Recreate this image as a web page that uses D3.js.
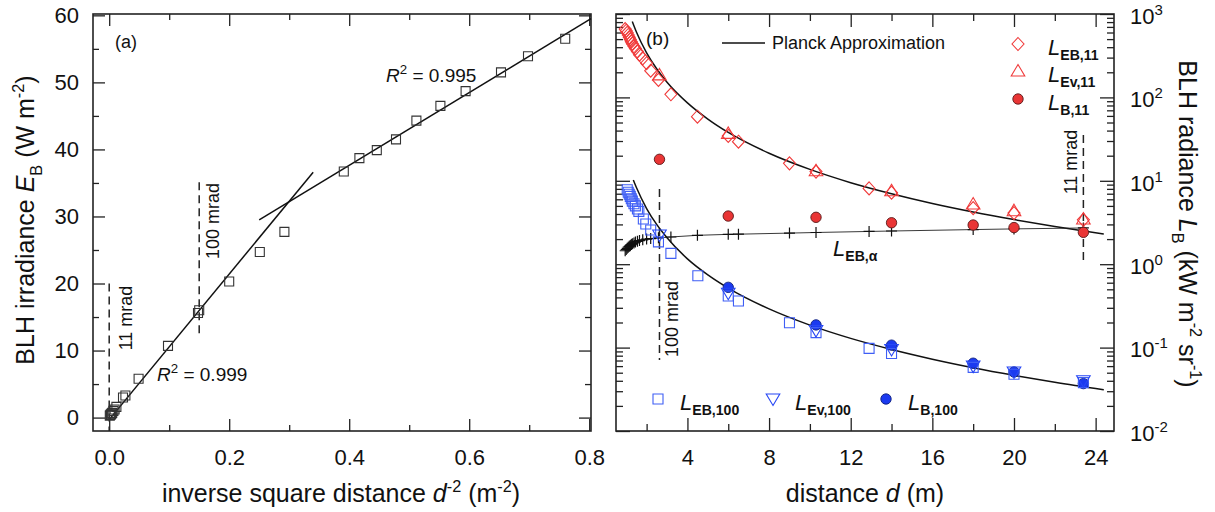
<!DOCTYPE html>
<meta charset="utf-8">
<script src="https://d3js.org/d3.v7.min.js"></script>
<style>
  body { margin: 0; background: #fff; }
  .tick line { stroke: #222; stroke-width: 1.3; }
  .tick text { fill: #111; }
</style>
<body>
<svg id="chart" width="1215" height="512"></svg>
</body>
<script>
// ---- panel (a): irradiance vs inverse square distance ----
var invSqDist = [0.001, 0.002, 0.003, 0.004, 0.005, 0.007, 0.009, 0.012, 0.023, 0.027, 0.049, 0.098,
                 0.148, 0.150, 0.200, 0.251, 0.292, 0.391, 0.417, 0.446, 0.478, 0.512, 0.552, 0.594,
                 0.653, 0.698, 0.760];
var irradiance = [0.3, 0.4, 0.5, 0.6, 0.7, 1.0, 1.2, 1.6, 3.0, 3.3, 5.8, 10.7,
                  15.6, 16.0, 20.3, 24.7, 27.7, 36.7, 38.7, 39.9, 41.5, 44.3, 46.5, 48.7,
                  51.5, 53.9, 56.5];
var fitLowX = [0.0, 0.34], fitLowY = [-0.3, 36.6];
var fitHighX = [0.25, 0.803], fitHighY = [29.5, 59.5];
var xTicksA = [0, 0.2, 0.4, 0.6, 0.8], xMinorA = [0.1, 0.3, 0.5, 0.7];
var yTicksA = [0, 10, 20, 30, 40, 50, 60], yMinorA = [5, 15, 25, 35, 45, 55];

// ---- panel (b): radiance vs distance ----
var dEB11 = [0.95, 1.0, 1.05, 1.1, 1.15, 1.2, 1.25, 1.3, 1.38, 1.45, 1.55, 1.65, 1.81, 2.0, 2.2, 2.58,
             3.19, 4.49, 6.0, 6.5, 9.0, 10.3, 12.9, 14.0, 18.0, 20.0, 23.4];
var LEB11 = [660, 630, 595, 560, 525, 495, 465, 440, 410, 385, 355, 325, 294, 257, 209, 162,
             109, 58.7, 34.5, 29.4, 16.2, 12.9, 8.1, 7.2, 4.7, 4.1, 3.4];
var dEv11 = [2.63, 6.0, 10.3, 14.0, 18.0, 20.0, 23.4];
var LEv11 = [186, 37, 13.2, 7.6, 5.27, 4.38, 3.48];
var dB11 = [2.63, 6.0, 10.3, 14.0, 18.0, 20.0, 23.4];
var LB11 = [18.1, 3.78, 3.65, 3.14, 2.95, 2.75, 2.41];

var dEB100 = [1.05, 1.1, 1.15, 1.2, 1.25, 1.3, 1.38, 1.45, 1.55, 1.62, 1.84, 1.96, 2.2, 2.58, 3.19,
              4.51, 6.0, 6.5, 9.0, 10.3, 12.9, 14.0, 18.0, 20.0, 23.4];
var LEB100 = [7.8, 7.3, 6.9, 6.5, 6.1, 5.7, 5.3, 5.0, 4.6, 4.3, 3.48, 3.03, 2.57, 1.85, 1.35,
              0.728, 0.416, 0.362, 0.199, 0.151, 0.098, 0.085, 0.058, 0.048, 0.038];
var dEv100 = [2.63, 6.0, 10.3, 14.0, 18.0, 20.0, 23.4];
var LEv100 = [2.24, 0.448, 0.16, 0.095, 0.06, 0.051, 0.04];
var dB100 = [6.0, 10.3, 14.0, 18.0, 20.0, 23.4];
var LB100 = [0.528, 0.187, 0.107, 0.065, 0.051, 0.037];

var dAlpha = [0.95, 1.0, 1.05, 1.1, 1.15, 1.2, 1.25, 1.3, 1.38, 1.45, 1.55, 1.65, 1.81, 2.0, 2.2, 2.58,
              3.19, 4.49, 6.0, 6.5, 9.0, 10.3, 12.9, 14.0, 18.0, 20.0, 23.4];
var LAlpha = [1.45, 1.5, 1.55, 1.6, 1.64, 1.68, 1.72, 1.76, 1.8, 1.84, 1.88, 1.92, 1.96, 2.0, 2.03, 2.07,
              2.12, 2.22, 2.28, 2.29, 2.36, 2.4, 2.47, 2.5, 2.6, 2.65, 2.72];

// Planck approximation curves
var dPl11 = [1.3, 1.5, 2, 2.5, 3, 4, 5, 6, 8, 10, 12, 14, 16, 18, 20, 22, 24.4];
var LPl11 = [811, 609, 342, 219, 152, 86, 55, 38, 21.4, 13.7, 9.5, 7.0, 5.35, 4.23, 3.43, 2.83, 2.3];
var dPl100 = [1.35, 1.5, 2, 2.5, 3, 4, 5, 6, 8, 10, 12, 14, 16, 18, 20, 22, 24.4];
var LPl100 = [10.2, 8.3, 4.65, 2.98, 2.07, 1.16, 0.745, 0.517, 0.291, 0.186, 0.129, 0.095, 0.0727,
              0.0574, 0.0465, 0.0384, 0.0313];

var xTicksB = [4, 8, 12, 16, 20, 24], xMinorB = [2, 6, 10, 14, 18, 22];
var yTicksB = [0.01, 0.1, 1, 10, 100, 1000];

var FONT = "Arial, 'Liberation Sans', Helvetica, sans-serif";
var RED = "#f03a3a", BLUE = "#3f5ef5";

var svg = d3.select("#chart").attr("font-family", FONT);

var xA = d3.scaleLinear().domain([-0.027, 0.803]).range([93, 591]);
var yA = d3.scaleLinear().domain([-2, 60.2]).range([431, 14]);
var xB = d3.scaleLinear().domain([0.5, 24.9]).range([616, 1114]);
var yB = d3.scaleLog().domain([0.01, 1000]).range([431, 14]);

// draws one row of inward ticks, optionally labelled
function ticks(maker, scale, vals, len, tr, pad, fmt) {
  var ax = maker(scale).tickValues(vals).tickSizeInner(-len).tickSizeOuter(0);
  if (fmt) ax.tickFormat(fmt).tickPadding(pad); else ax.tickFormat("");
  var g = svg.append("g").attr("transform", tr).call(ax);
  g.select(".domain").remove();
  g.attr("font-family", FONT).attr("font-size", 22);
  return g;
}

// text with italic / sub / sup pieces
function rich(x, y, parts, size, opts) {
  opts = opts || {};
  var t = svg.append("text").attr("x", x).attr("y", y).attr("font-size", size)
    .attr("text-anchor", opts.anchor || "start").attr("fill", "#111");
  if (opts.rotate) t.attr("transform", "rotate(" + opts.rotate + "," + x + "," + y + ")");
  var cur = 0;
  parts.forEach(function(p) {
    var s = t.append("tspan").text(p.t);
    var target = p.sub ? size * (opts.subShift || 0.3) : p.sup ? -size * 0.42 : 0;
    if (target !== cur) s.attr("dy", target - cur);
    cur = target;
    if (p.sub || p.sup) s.attr("font-size", size * (opts.small || 0.65));
    if (p.sub && opts.boldSub) s.attr("font-weight", "bold");
    if (p.i) s.attr("font-style", "italic");
  });
  return t;
}

var fmtA = function(d) { return d3.format(".1f")(d); };

// panel (a) axes
ticks(d3.axisBottom, xA, xTicksA, 12, "translate(0,431)", 18, fmtA);
ticks(d3.axisBottom, xA, xMinorA, 6, "translate(0,431)");
ticks(d3.axisTop, xA, xTicksA, 12, "translate(0,14)");
ticks(d3.axisTop, xA, xMinorA, 6, "translate(0,14)");
ticks(d3.axisLeft, yA, yTicksA, 12, "translate(93,0)", 14, d3.format("d"));
ticks(d3.axisLeft, yA, yMinorA, 6, "translate(93,0)");
ticks(d3.axisRight, yA, yTicksA, 12, "translate(591,0)");
ticks(d3.axisRight, yA, yMinorA, 6, "translate(591,0)");

// panel (b) axes
var logMinor = yB.ticks().filter(function(v) { return yTicksB.indexOf(v) < 0 && Math.abs(Math.log10(v) - Math.round(Math.log10(v))) > 1e-6; });
ticks(d3.axisBottom, xB, xTicksB, 13, "translate(0,431)", 18, d3.format("d"));
ticks(d3.axisBottom, xB, xMinorB, 7, "translate(0,431)");
ticks(d3.axisTop, xB, xTicksB, 13, "translate(0,14)");
ticks(d3.axisTop, xB, xMinorB, 7, "translate(0,14)");
ticks(d3.axisLeft, yB, yTicksB, 14, "translate(616,0)");
ticks(d3.axisLeft, yB, logMinor, 7, "translate(616,0)");
var gR = ticks(d3.axisRight, yB, yTicksB, 14, "translate(1114,0)", 16, function() { return ""; });
ticks(d3.axisRight, yB, logMinor, 7, "translate(1114,0)");
gR.selectAll(".tick text").each(function(d) {
  var t = d3.select(this).attr("dy", "0.42em");
  t.text(null);
  t.append("tspan").text("10");
  t.append("tspan").attr("dy", -9).attr("font-size", 15).text(Math.round(Math.log10(d)));
});

// frames
svg.append("rect").attr("x", 93).attr("y", 14).attr("width", 498).attr("height", 417)
  .attr("fill", "none").attr("stroke", "#222").attr("stroke-width", 1.6);
svg.append("rect").attr("x", 616).attr("y", 14).attr("width", 498).attr("height", 417)
  .attr("fill", "none").attr("stroke", "#222").attr("stroke-width", 1.6);

// ---- panel (a) marks ----
function dashedV(x, y0, y1) {
  svg.append("line").attr("x1", x).attr("x2", x).attr("y1", y0).attr("y2", y1)
    .attr("stroke", "#222").attr("stroke-width", 1.5).attr("stroke-dasharray", "8,5");
}
dashedV(xA(0), yA(20), 431);
dashedV(xA(0.15), yA(35.1), yA(12));

var lineA = d3.line().x(function(d) { return xA(d[0]); }).y(function(d) { return yA(d[1]); });
svg.append("path").attr("d", lineA(d3.zip(fitLowX, fitLowY))).attr("stroke", "#111")
  .attr("stroke-width", 1.5).attr("fill", "none");
svg.append("path").attr("d", lineA(d3.zip(fitHighX, fitHighY))).attr("stroke", "#111")
  .attr("stroke-width", 1.5).attr("fill", "none");

var shapes = {
  sqA: "M-4.5,-4.5H4.5V4.5H-4.5Z",
  sq: "M-5,-5H5V5H-5Z",
  diamond: "M0,-6.5L6,0L0,6.5L-6,0Z",
  triUp: "M0,-6.5L6.8,5L-6.8,5Z",
  triDown: "M0,6.5L6.8,-5L-6.8,-5Z",
  plus: "M-5.5,0H5.5M0,-5.5V5.5"
};

svg.append("g").selectAll("path").data(d3.zip(invSqDist, irradiance)).join("path")
  .attr("transform", function(d) { return "translate(" + xA(d[0]) + "," + yA(d[1]) + ")"; })
  .attr("d", shapes.sqA).attr("fill", "none").attr("stroke", "#333").attr("stroke-width", 1.1);

rich(115, 48, [{t: "(a)"}], 18);
rich(157, 381, [{t: "R", i: 1}, {t: "2", sup: 1}, {t: " = 0.999"}], 19, {small: 0.7});
rich(386, 82, [{t: "R", i: 1}, {t: "2", sup: 1}, {t: " = 0.995"}], 19, {small: 0.7});
rich(132, 318, [{t: "11 mrad"}], 18, {rotate: -90, anchor: "middle"});
rich(219, 221, [{t: "100 mrad"}], 18, {rotate: -90, anchor: "middle"});

// axis titles (a)
rich(341, 502, [{t: "inverse square distance "}, {t: "d", i: 1}, {t: "-2", sup: 1}, {t: " (m"}, {t: "-2", sup: 1}, {t: ")"}], 25, {anchor: "middle"});
rich(34, 220, [{t: "BLH irradiance "}, {t: "E", i: 1}, {t: "B", sub: 1}, {t: " (W m"}, {t: "-2", sup: 1}, {t: ")"}], 25, {anchor: "middle", rotate: -90});

// ---- panel (b) marks ----
var lineB = d3.line().x(function(d) { return xB(d[0]); }).y(function(d) { return yB(d[1]); });
dashedV(xB(2.63), yB(8), yB(0.071));
dashedV(xB(23.4), yB(35.5), yB(1.12));

svg.append("path").attr("d", lineB.curve(d3.curveMonotoneX)(d3.zip(dPl11, LPl11)))
  .attr("stroke", "#111").attr("stroke-width", 1.5).attr("fill", "none");
svg.append("path").attr("d", lineB.curve(d3.curveMonotoneX)(d3.zip(dPl100, LPl100)))
  .attr("stroke", "#111").attr("stroke-width", 1.5).attr("fill", "none");
svg.append("path").attr("d", lineB.curve(d3.curveLinear)(d3.zip(dAlpha, LAlpha)))
  .attr("stroke", "#222").attr("stroke-width", 0.9).attr("fill", "none");

function marks(ds, Ls, shape, fill, stroke, sw) {
  svg.append("g").selectAll("path").data(d3.zip(ds, Ls)).join("path")
    .attr("transform", function(d) { return "translate(" + xB(d[0]) + "," + yB(d[1]) + ")"; })
    .attr("d", shape).attr("fill", fill).attr("stroke", stroke).attr("stroke-width", sw);
}
function dots(ds, Ls, fill, stroke) {
  svg.append("g").selectAll("circle").data(d3.zip(ds, Ls)).join("circle")
    .attr("cx", function(d) { return xB(d[0]); }).attr("cy", function(d) { return yB(d[1]); })
    .attr("r", 5.2).attr("fill", fill).attr("stroke", stroke).attr("stroke-width", 0.9);
}

marks(dAlpha, LAlpha, shapes.plus, "none", "#111", 1.2);
dots(dB11, LB11, "#e93535", "#5a1a1a");
marks(dEB11, LEB11, shapes.diamond, "none", RED, 1.1);
marks(dEv11, LEv11, shapes.triUp, "none", RED, 1.1);
dots(dB100, LB100, "#1b3af0", "#0d1f80");
marks(dEB100, LEB100, shapes.sq, "none", BLUE, 1.1);
marks(dEv100, LEv100, shapes.triDown, "none", "#2747f5", 1.1);

rich(646, 45, [{t: "(b)"}], 19);
rich(678, 319, [{t: "100 mrad"}], 18, {rotate: -90, anchor: "middle"});
rich(1077, 162, [{t: "11 mrad"}], 18, {rotate: -90, anchor: "middle"});
rich(833, 256, [{t: "L", i: 1}, {t: "EB,\u03b1", sub: 1}], 22, {small: 0.64, subShift: 0.22, boldSub: 1});

// legends
svg.append("line").attr("x1", 722).attr("x2", 765).attr("y1", 43).attr("y2", 43)
  .attr("stroke", "#111").attr("stroke-width", 1.5);
rich(772, 49, [{t: "Planck Approximation"}], 18);

function legendItem(x, y, kind, fill, stroke, tx, sub) {
  if (kind === "circle") {
    svg.append("circle").attr("cx", x).attr("cy", y).attr("r", 5.2).attr("fill", fill)
      .attr("stroke", stroke).attr("stroke-width", 0.9);
  } else {
    svg.append("path").attr("transform", "translate(" + x + "," + y + ")").attr("d", shapes[kind])
      .attr("fill", "none").attr("stroke", stroke).attr("stroke-width", 1.1);
  }
  rich(tx, y + 11, [{t: "L", i: 1}, {t: sub, sub: 1}], 22, {small: 0.64, subShift: 0.22, boldSub: 1});
}
legendItem(1018, 44, "diamond", "none", RED, 1048, "EB,11");
legendItem(1018, 71, "triUp", "none", RED, 1048, "Ev,11");
legendItem(1018, 99, "circle", "#e93535", "#5a1a1a", 1048, "B,11");
legendItem(658, 399, "sq", "none", BLUE, 680, "EB,100");
legendItem(773, 399, "triDown", "none", "#2747f5", 795, "Ev,100");
legendItem(886, 399, "circle", "#1b3af0", "#0d1f80", 908, "B,100");

// axis titles (b)
rich(865, 502, [{t: "distance "}, {t: "d", i: 1}, {t: " (m)"}], 25, {anchor: "middle"});
rich(1179, 224, [{t: "BLH radiance "}, {t: "L", i: 1}, {t: "B", sub: 1}, {t: " (kW m"}, {t: "-2", sup: 1}, {t: " sr"}, {t: "-1", sup: 1}, {t: ")"}], 25, {anchor: "middle", rotate: 90});
</script>
